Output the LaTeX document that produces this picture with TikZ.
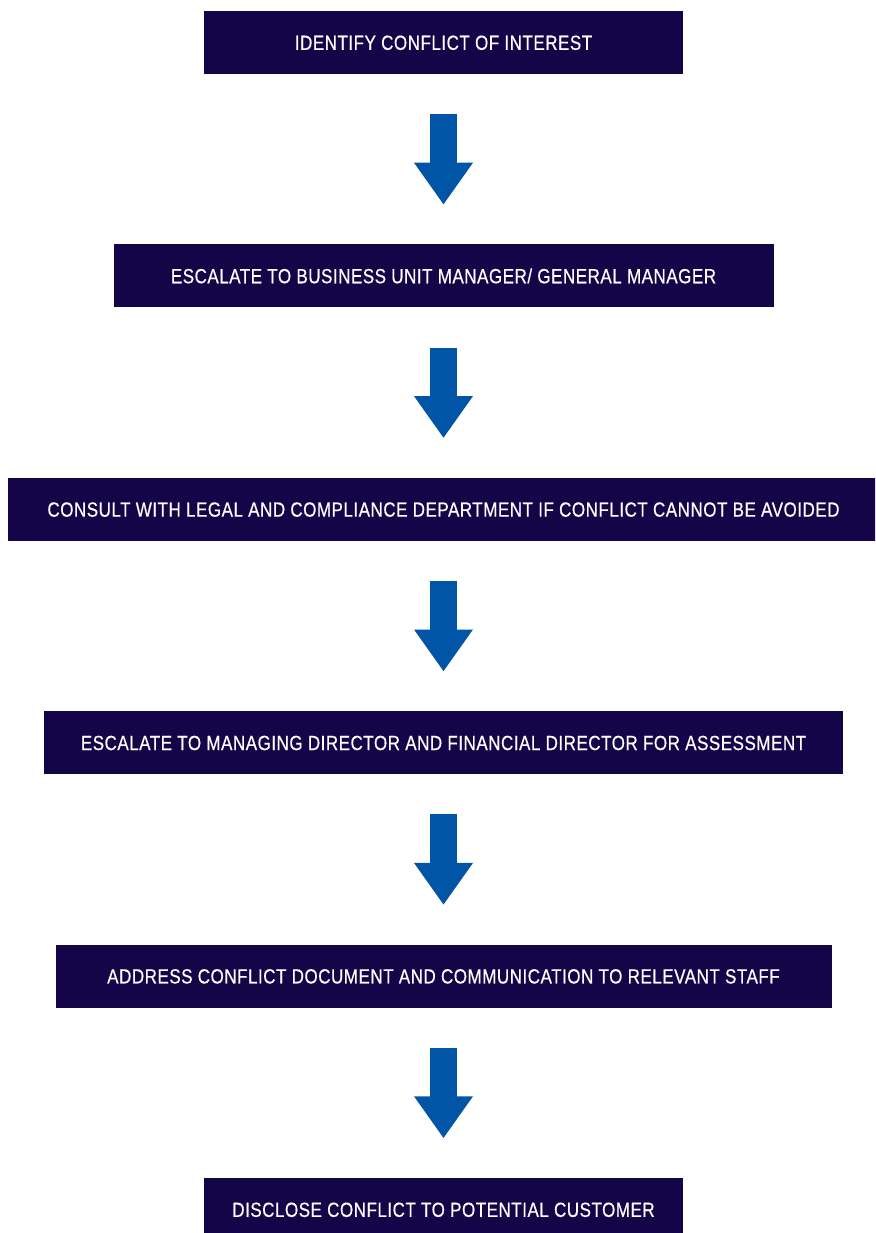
\documentclass[tikz,border=0pt]{standalone}
\usepackage{fontspec}
\setmainfont{Liberation Sans}[FakeStretch=0.83, LetterSpace=2.5, FakeBold=0.5]
\usetikzlibrary{positioning,arrows.meta}
\definecolor{boxnavy}{RGB}{19,5,72}
\definecolor{arrowblue}{RGB}{0,85,166}

\begin{document}
\begin{tikzpicture}[
    x=1pt, y=-1pt,
    node distance=170pt,
    stepbox/.style={rectangle, fill=boxnavy, text=white, minimum height=63pt,
        inner sep=0pt, text height=14.7pt, text depth=0pt,
        font=\fontsize{20.5}{23}\selectfont},
    flowarrow/.style={draw=arrowblue, line width=27pt,
        -{Triangle[width=56pt,length=42pt]}, shorten <=40pt, shorten >=39.5pt},
]
\clip (0,0) rectangle (875,1233);

% Steps of the process
\node[stepbox, minimum width=479pt] (identify) at (443.5,42.5) {IDENTIFY CONFLICT OF INTEREST};
\node[stepbox, minimum width=660pt, below=of identify] (escalate) {ESCALATE TO BUSINESS UNIT MANAGER/ GENERAL MANAGER};
\node[stepbox, minimum width=871pt, below=of escalate] (consult) {CONSULT WITH LEGAL AND COMPLIANCE DEPARTMENT IF CONFLICT CANNOT BE AVOIDED};
\node[stepbox, minimum width=799pt, below=of consult] (assess) {ESCALATE TO MANAGING DIRECTOR AND FINANCIAL DIRECTOR FOR ASSESSMENT};
\node[stepbox, minimum width=776pt, below=of assess] (address) {ADDRESS CONFLICT DOCUMENT AND COMMUNICATION TO RELEVANT STAFF};
\node[stepbox, minimum width=479pt, below=of address] (disclose) {DISCLOSE CONFLICT TO POTENTIAL CUSTOMER};

% Arrows between the steps
\foreach \from/\to in {identify/escalate, escalate/consult, consult/assess, assess/address, address/disclose}
    \draw[flowarrow] (\from.south) -- (\to.north);

\end{tikzpicture}
\end{document}
